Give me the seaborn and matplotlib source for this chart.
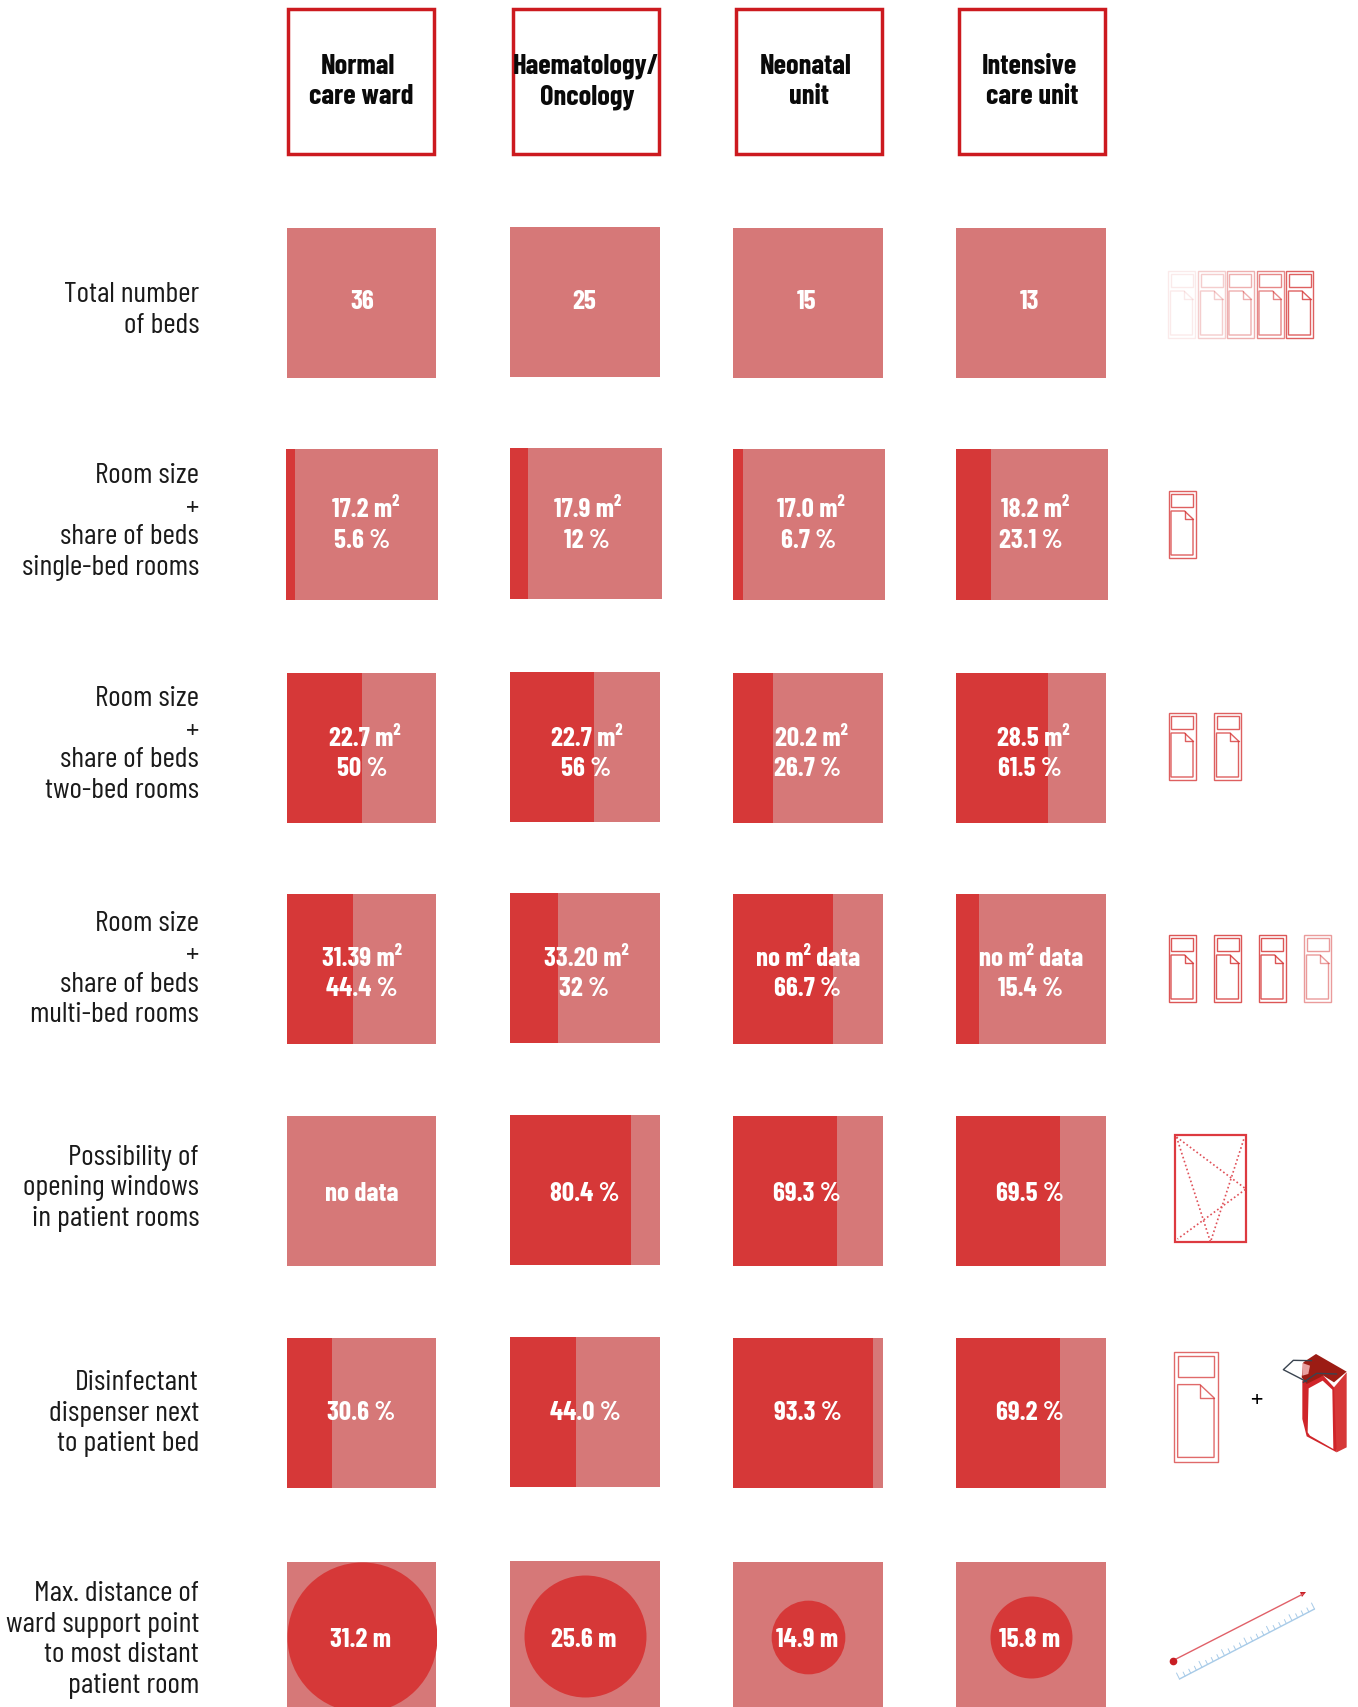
import numpy as np
import matplotlib
matplotlib.use('Agg')
import matplotlib.pyplot as plt
from matplotlib.patches import Rectangle, Polygon
import seaborn as sns
import pandas as pd

# data
wards = ['Normal\ncare ward', 'Haematology/\nOncology', 'Neonatal\nunit', 'Intensive\ncare unit']
row_names = ['Total number\nof beds',
             'Room size\n+\nshare of beds\nsingle-bed rooms',
             'Room size\n+\nshare of beds\ntwo-bed rooms',
             'Room size\n+\nshare of beds\nmulti-bed rooms',
             'Possibility of\nopening windows\nin patient rooms',
             'Disinfectant\ndispenser next\nto patient bed',
             'Max. distance of\nward support point\nto most distant\npatient room']
beds_total = [36, 25, 15, 13]
room_single = [17.2, 17.9, 17.0, 18.2]
share_single = [5.6, 12.0, 6.7, 23.1]
room_double = [22.7, 22.7, 20.2, 28.5]
share_double = [50.0, 56.0, 26.7, 61.5]
room_multi = ['31.39 m²', '33.20 m²', 'no m² data', 'no m² data']
share_multi = [44.4, 32.0, 66.7, 15.4]
share_windows = [0, 80.4, 69.3, 69.5]
share_dispenser = [30.6, 44.0, 93.3, 69.2]
max_distance = [31.2, 25.6, 14.9, 15.8]
# circles are not quite proportional in the picture, so the size is read too
circle_size = [150, 122, 73.7, 82]

shares = [[0, 0, 0, 0], share_single, share_double, share_multi,
          share_windows, share_dispenser, [0, 0, 0, 0]]
labels = [[str(v) for v in beds_total],
          [f'{r:.1f} m²\n{s:g} %' for r, s in zip(room_single, share_single)],
          [f'{r:.1f} m²\n{s:g} %' for r, s in zip(room_double, share_double)],
          [f'{r}\n{s:g} %' for r, s in zip(room_multi, share_multi)],
          ['no data'] + [f'{s:g} %' for s in share_windows[1:]],
          [f'{s:.1f} %' for s in share_dispenser],
          [f'{d:g} m' for d in max_distance]]

LIGHT = '#d67878'
DARK = '#d63838'
RED = '#cc1a1f'
W, H = 1358, 1708

sns.set_theme(style='white')
FONT = ['Barlow Condensed', 'Roboto', 'DejaVu Sans']
plt.rcParams['font.family'] = FONT

fig = plt.figure(figsize=(W / 100, H / 100), dpi=100)

# layout in pixels
col_x = [286.5, 510, 733, 956]
row_y = [229, 450, 673.5, 895, 1117, 1339, 1563]
cell = 150
# baseline of first value line, and small per-cell nudges of the value text
text_base = [309, 517.5, 746, 966, 1201, 1420, 1647]
line_dx = [[[0, -2, -2, -2]],
           [[3, 2, 2, 3], [0, 1, 0, -1]],
           [[2, 1, 2, 1], [0, 0, -1, -2]],
           [[-1, 0, -1, -1], [-1, -2, -1, -2]],
           [[-1, -1, -2, -2]],
           [[-1, -1, -1, -2]],
           [[-2, -2, -2, -2]]]

# overlay in pixels for text and icons, drawn last
ov = fig.add_axes([0, 0, 1, 1], zorder=10)
ov.set_xlim(0, W)
ov.set_ylim(H, 0)
ov.axis('off')
ov.patch.set_alpha(0)

for r, name in enumerate(row_names):
    for c, x in enumerate(col_x):
        y = row_y[r] - (1 if c == 1 else 0)
        w, h = cell, cell
        if r == 1:
            x, w, h = x - 0.5, cell + 2, cell + 1
        ax = fig.add_axes([x / W, 1 - (y + h) / H, w / W, h / H])
        ax.set_facecolor(LIGHT)
        sns.barplot(x=[shares[r][c]], y=['v'], orient='h', width=1, color=DARK,
                    saturation=1, linewidth=0, ax=ax)
        if r == 6:
            sns.scatterplot(x=[50], y=[0], s=(circle_size[c] * 0.72) ** 2, color=DARK,
                            linewidth=0, ax=ax)
        ax.set_xlim(0, 100)
        ax.set_ylim(0.5, -0.5)
        ax.set_xlabel('')
        ax.set_ylabel('')
        ax.set_xticks([])
        ax.set_yticks([])
        for s in ax.spines.values():
            s.set_visible(False)
        for i, line in enumerate(labels[r][c].split('\n')):
            ov.text(col_x[c] + 76 + line_dx[r][i][c], text_base[r] + i * 30.5, line,
                    ha='center', va='baseline', color='white', fontsize=19.5, fontweight='bold')

# ward headers
head_x = [287.5, 512.5, 736, 959]
head_text = [[358, 361], [586, 587], [806, 809], [1029, 1032]]
for x, name, tx in zip(head_x, wards, head_text):
    ov.add_patch(Rectangle((x, 9.5), 146, 145, fill=False, ec=RED, lw=2.5))
    for i, line in enumerate(name.split('\n')):
        ov.text(tx[i], 73.5 + i * 30.5, line, ha='center', va='baseline', color='#0a0a0a',
                fontsize=20.5, fontweight='bold')

# row names
label_base = [302.5, 483.3, 706.5, 931, 1165, 1390.5, 1601.5]
for name, y in zip(row_names, label_base):
    for i, line in enumerate(name.split('\n')):
        ov.text(199, y + i * 30.5 + (2 if line == '+' else 0), line, ha='right', va='baseline',
                color='#1a1a1a', fontsize=21.5)


def bed(x, y, k=1.0, alpha=0.8):
    kw = dict(fill=False, ec='#d63838', lw=1.0, alpha=alpha)
    ov.add_patch(Rectangle((x, y), 27 * k, 66.5 * k, **kw))
    ov.add_patch(Rectangle((x + 2.5 * k, y + 3 * k), 22 * k, 12.5 * k, **kw))
    pts = [(x + 2.5 * k, y + 20 * k), (x + 16 * k, y + 20 * k), (x + 24.5 * k, y + 28 * k),
           (x + 24.5 * k, y + 64 * k), (x + 2.5 * k, y + 64 * k)]
    ov.add_patch(Polygon(pts, closed=True, **kw))
    ov.plot([x + 16 * k, x + 16 * k, x + 24.5 * k], [y + 20 * k, y + 28 * k, y + 28 * k],
            color='#d63838', lw=1.0, alpha=alpha)


for x, a in zip([1168, 1198, 1226.5, 1256.5, 1286], [0.1, 0.25, 0.4, 0.6, 0.8]):
    bed(x, 272, alpha=a)
bed(1168.5, 492)
bed(1168.5, 714)
bed(1214, 714)
for x, a in zip([1168.5, 1214, 1258.5, 1304], [0.85, 0.85, 0.85, 0.5]):
    bed(x, 936, alpha=a)

# window icon
ov.add_patch(Rectangle((1174.5, 1136), 71.5, 107, fill=False, ec='#dd3a40', lw=1.6))
for xs, ys in [([1176.5, 1246, 1177.5], [1138, 1190, 1240]), ([1176.5, 1210.5, 1244.5], [1138, 1243, 1138])]:
    ov.plot(xs, ys, color='#e05058', lw=1.2, ls=(0, (1, 1.5)))

# dispenser + bed
bed(1173.5, 1352.5, k=1.655, alpha=0.75)
ov.text(1256, 1408, '+', ha='center', va='baseline', color='black', fontsize=20)


def zp(*pts):
    return [(1130 + a / 3, 1110 + b / 3) for a, b in pts]


ov.add_patch(Polygon(zp((612, 835), (650, 790), (650, 1015), (620, 1030), (606, 960)), color=DARK, lw=0))
ov.add_patch(Polygon(zp((517, 815), (580, 800), (612, 835), (620, 1030), (530, 982), (517, 930)), color='#d0252a', lw=0))
ov.add_patch(Polygon(zp((536, 838), (578, 815), (607, 842), (610, 1020), (540, 980), (533, 970)), color='white', lw=0))
ov.add_patch(Polygon(zp((515, 805), (520, 760), (558, 735), (650, 788), (612, 820), (580, 800), (530, 825)), color='#9c1c14', lw=0))
ov.add_patch(Polygon(zp((517, 762), (540, 770), (535, 795), (517, 800)), color='#e8a0a0', lw=0))
ov.plot(*zip(*zp((530, 818), (460, 782), (490, 754), (545, 755))), color='#3a4450', lw=1.0)
ov.plot(*zip(*zp((520, 820), (560, 793), (620, 795))), color='#3a4450', lw=1.0)

# distance arrow and ruler icon
ov.plot([1172.7, 1303], [1661.7, 1595], color='#e06068', lw=1.0)
ov.plot([1172.7], [1661.7], 'o', color='#c81e24', ms=4.5)
ov.add_patch(Polygon([(1300, 1593), (1306, 1593), (1302, 1598)], color='#c81e24', lw=0))
x0, y0, x1, y1 = 1179.5, 1680, 1314.5, 1610
ov.plot([x0, x1], [y0, y1], color='#a8cbe8', lw=1.0)
for i, t in enumerate(np.linspace(0, 1, 25)):
    tx, ty = x0 + (x1 - x0) * t, y0 + (y1 - y0) * t
    ln = 6 if i % 4 == 0 else 4
    ov.plot([tx, tx - ln * 0.5], [ty, ty - ln], color='#a8cbe8', lw=0.7)

ov.set_xlim(0, W)
ov.set_ylim(H, 0)
fig.savefig('out.png', dpi=100)
